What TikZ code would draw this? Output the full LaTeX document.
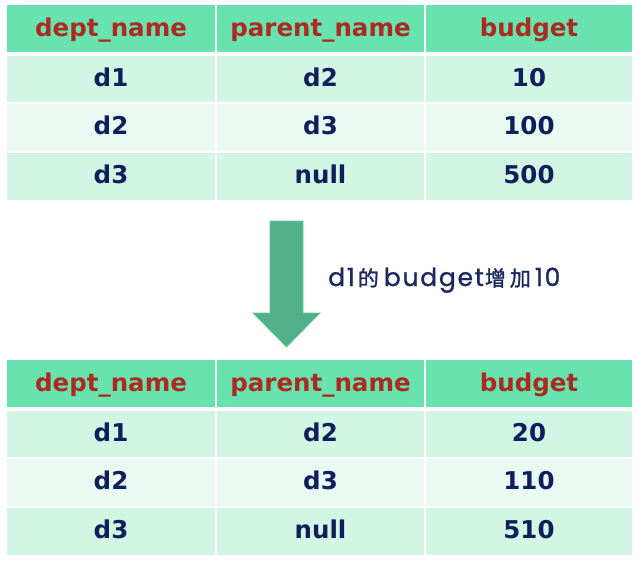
\documentclass[tikz,border=0pt]{standalone}
\usepackage{fontspec}
\setmainfont{DejaVu Sans}
\newfontfamily\capfont[LetterSpace=7,FakeBold=1.2]{Poppins}
\newfontfamily\cjk[FakeBold=1.5]{Noto Sans CJK SC}
\definecolor{hdr}{HTML}{68E2AE}
\definecolor{rowa}{HTML}{D3F5E3}
\definecolor{rowb}{HTML}{EAF9F2}
\definecolor{hdrtxt}{HTML}{AC2A20}
\definecolor{bodytxt}{HTML}{0F1F5C}
\definecolor{arrowfill}{HTML}{52B088}
\definecolor{arrowedge}{HTML}{62C899}
\definecolor{captxt}{HTML}{1B2A5E}
\newcommand\mkTableRow[7]{%
  \node[#4, minimum width=208pt, minimum height=#3pt] (#1-1) at (111,#2) {#5};
  \node[#4, minimum width=207pt, minimum height=#3pt] (#1-2) at (320.5,#2) {#6};
  \node[#4, minimum width=206pt, minimum height=#3pt] (#1-3) at (529,#2) {#7};
}
\begin{document}
\begin{tikzpicture}[x=1pt,y=-1pt,
  cellbase/.style={inner sep=0pt, outer sep=0pt, font=\fontsize{24.5}{28}\selectfont\bfseries},
  hcell/.style={cellbase, fill=hdr, text=hdrtxt, text height=17pt, text depth=1pt},
  acell/.style={cellbase, fill=rowa, text=bodytxt, text height=15pt, text depth=1pt},
  bcell/.style={cellbase, fill=rowb, text=bodytxt, text height=15pt, text depth=1pt},
  bigarrow/.style={fill=arrowfill, draw=arrowedge, line width=0.8pt},
  caption/.style={inner sep=0pt, text=captxt, anchor=base west}]
\useasboundingbox (0,0) rectangle (644,568);
% top table
\mkTableRow{th}{28.5}{47}{hcell}{dept\_name}{parent\_name}{budget}
\mkTableRow{ta}{79}{46}{acell}{d1}{d2}{10}
\mkTableRow{tb}{127.5}{47}{bcell}{d2}{d3}{100}
\mkTableRow{tc}{176.5}{47}{acell}{d3}{null}{500}
% bottom table
\mkTableRow{bh}{383.5}{47}{hcell}{dept\_name}{parent\_name}{budget}
\mkTableRow{ba}{434}{46}{acell}{d1}{d2}{20}
\mkTableRow{bb}{482.5}{47}{bcell}{d2}{d3}{110}
\mkTableRow{bc}{531.5}{47}{acell}{d3}{null}{510}
% arrow
\coordinate (arrtop) at (286.5,221);
\coordinate (arrtip) at (286.5,347);
\draw[bigarrow] ([xshift=-16.5pt]arrtop) -- ([xshift=16.5pt]arrtop) -- (303,313) -- (320,313) -- (arrtip) -- (253,313) -- (270,313) -- cycle;
\node[caption] (cap) at (328,286) {\fontsize{25}{28}\selectfont\capfont d1\hspace{3pt}{\cjk\fontsize{21}{24}\selectfont 的}\hspace{5pt}budget\hspace{1pt}{\cjk\fontsize{21}{24}\selectfont 增\hspace{4pt}加}\hspace{4pt}10};
\end{tikzpicture}
\end{document}
